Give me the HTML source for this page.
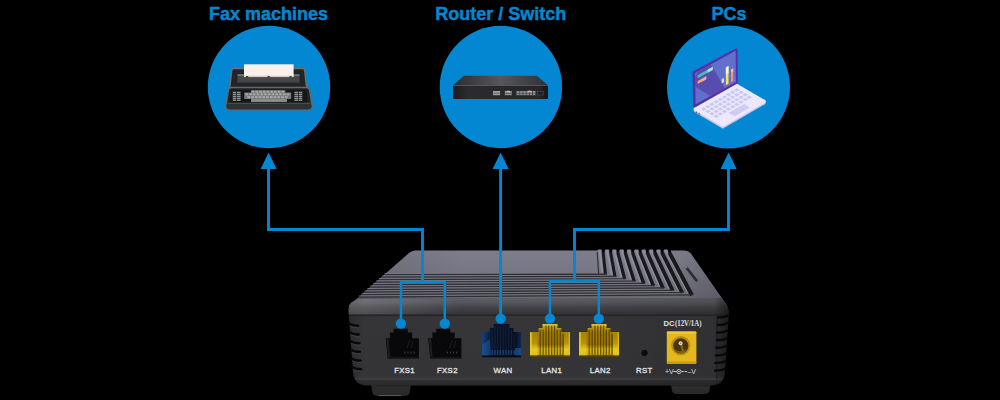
<!DOCTYPE html>
<html><head><meta charset="utf-8"><title>Gateway connection diagram</title>
<style>
html,body{margin:0;padding:0;background:#000;}
body{width:1000px;height:400px;overflow:hidden;font-family:"Liberation Sans",sans-serif;}
svg{display:block}
</style></head>
<body>
<svg width="1000" height="400" viewBox="0 0 1000 400">
<rect width="1000" height="400" fill="#000"/>
<defs>
<linearGradient id="gTop" x1="0" y1="0" x2="0" y2="1">
  <stop offset="0" stop-color="#7e7d8c"/><stop offset="0.42" stop-color="#777684"/><stop offset="0.85" stop-color="#696875"/><stop offset="1" stop-color="#5e5d67"/>
</linearGradient>
<linearGradient id="gTopL" x1="0" y1="0" x2="1" y2="0">
  <stop offset="0" stop-color="#000" stop-opacity="0.12"/><stop offset="0.3" stop-color="#000" stop-opacity="0"/>
  <stop offset="0.85" stop-color="#000" stop-opacity="0"/><stop offset="1" stop-color="#000" stop-opacity="0.15"/>
</linearGradient>
<linearGradient id="gFront" x1="0" y1="0" x2="0" y2="1">
  <stop offset="0" stop-color="#5e5e66"/><stop offset="0.05" stop-color="#56565d"/><stop offset="0.11" stop-color="#424247"/><stop offset="0.185" stop-color="#343438"/><stop offset="0.2" stop-color="#303033"/><stop offset="0.215" stop-color="#363639"/>
  <stop offset="0.88" stop-color="#353538"/><stop offset="0.92" stop-color="#39393c"/><stop offset="0.935" stop-color="#303033"/><stop offset="1" stop-color="#2a2a2c"/>
</linearGradient>
<linearGradient id="gFrontX" x1="0" y1="0" x2="1" y2="0">
  <stop offset="0" stop-color="#000" stop-opacity="0.18"/><stop offset="0.04" stop-color="#000" stop-opacity="0.02"/>
  <stop offset="0.5" stop-color="#000" stop-opacity="0"/><stop offset="0.96" stop-color="#000" stop-opacity="0.1"/><stop offset="1" stop-color="#000" stop-opacity="0.5"/>
</linearGradient>
<linearGradient id="gLan" x1="0" y1="0" x2="0" y2="1">
  <stop offset="0" stop-color="#d2ae22"/><stop offset="0.1" stop-color="#c09a14"/><stop offset="0.26" stop-color="#a07c08"/><stop offset="0.62" stop-color="#9c7806"/><stop offset="0.76" stop-color="#d6b612"/><stop offset="0.93" stop-color="#ccac0e"/><stop offset="0.95" stop-color="#5e4804"/><stop offset="1" stop-color="#4a3804"/>
</linearGradient>
<linearGradient id="gLanSide" x1="0" y1="0" x2="0" y2="1">
  <stop offset="0" stop-color="#a88408" stop-opacity="0.9"/><stop offset="0.45" stop-color="#b8940c" stop-opacity="0.9"/><stop offset="0.75" stop-color="#e6ca1c"/><stop offset="1" stop-color="#e0c018"/>
</linearGradient>
<linearGradient id="gWan" x1="0" y1="0" x2="1" y2="0">
  <stop offset="0" stop-color="#15427e"/><stop offset="0.14" stop-color="#0e284e"/><stop offset="0.24" stop-color="#0a1428"/><stop offset="0.86" stop-color="#090f1e"/><stop offset="1" stop-color="#0e2a58"/>
</linearGradient>
<linearGradient id="gFoot" x1="0" y1="0" x2="0" y2="1">
  <stop offset="0" stop-color="#1c1c1e"/><stop offset="0.3" stop-color="#2c2c2f"/><stop offset="1" stop-color="#29292b"/>
</linearGradient>
</defs>
<path d="M371 384 L411 384 L409.5 393 Q408.5 396 404 396 L378 396 Q373.5 396 372.5 393 Z" fill="url(#gFoot)"/>
<rect x="379" y="395.2" width="22" height="0.9" fill="#8a8a8a" opacity="0.6"/>
<path d="M671 384 L710.5 384 L709.5 391 Q708.5 394 704 394 L677 394 Q673 394 672 391 Z" fill="url(#gFoot)"/>
<path d="M415 250.5 L684.5 250.5 Q688.5 250.5 690.6 253.2 L727.4 306 L348.6 306 L409 253 Q412 250.5 415 250.5 Z" fill="url(#gTop)"/>
<path d="M415 250.5 L684.5 250.5 Q688.5 250.5 690.6 253.2 L727.4 306 L348.6 306 L409 253 Q412 250.5 415 250.5 Z" fill="url(#gTopL)"/>
<path d="M599.8 251.0 L602.2 273.0" fill="none" stroke="#9492a2" stroke-width="2.0" stroke-opacity="0.8"/>
<path d="M603.5 273.1 L384.6 273.5" fill="none" stroke="#7a7987" stroke-width="1.0" stroke-opacity="0.9"/>
<path d="M603.2 252.6 L605.5 274.6" fill="none" stroke="#19191c" stroke-width="2.90" stroke-linecap="butt"/>
<path d="M606.7 274.2 L384.6 274.6" fill="none" stroke="#2e2e33" stroke-width="1.35"/>
<path d="M607.2 251.0 L611.8 275.3" fill="none" stroke="#9492a2" stroke-width="2.0" stroke-opacity="0.8"/>
<path d="M613.1 275.4 L381.8 276.0" fill="none" stroke="#7a7987" stroke-width="1.0" stroke-opacity="0.9"/>
<path d="M610.6 252.6 L615.1 276.9" fill="none" stroke="#19191c" stroke-width="3.02" stroke-linecap="butt"/>
<path d="M616.3 276.5 L381.8 277.1" fill="none" stroke="#2e2e33" stroke-width="1.35"/>
<path d="M614.5 251.0 L621.4 277.6" fill="none" stroke="#9492a2" stroke-width="2.0" stroke-opacity="0.8"/>
<path d="M622.7 277.7 L378.9 278.5" fill="none" stroke="#7a7987" stroke-width="1.0" stroke-opacity="0.9"/>
<path d="M617.9 252.6 L624.7 279.2" fill="none" stroke="#19191c" stroke-width="3.14" stroke-linecap="butt"/>
<path d="M625.9 278.8 L378.9 279.6" fill="none" stroke="#2e2e33" stroke-width="1.35"/>
<path d="M621.9 251.0 L631.0 279.9" fill="none" stroke="#9492a2" stroke-width="2.0" stroke-opacity="0.8"/>
<path d="M632.3 279.9 L376.0 281.0" fill="none" stroke="#7a7987" stroke-width="1.0" stroke-opacity="0.9"/>
<path d="M625.2 252.6 L634.3 281.5" fill="none" stroke="#19191c" stroke-width="3.26" stroke-linecap="butt"/>
<path d="M635.5 281.1 L376.0 282.1" fill="none" stroke="#2e2e33" stroke-width="1.35"/>
<path d="M629.2 251.0 L640.6 282.2" fill="none" stroke="#9492a2" stroke-width="2.0" stroke-opacity="0.8"/>
<path d="M641.9 282.2 L373.2 283.5" fill="none" stroke="#7a7987" stroke-width="1.0" stroke-opacity="0.9"/>
<path d="M632.6 252.6 L643.9 283.8" fill="none" stroke="#19191c" stroke-width="3.38" stroke-linecap="butt"/>
<path d="M645.1 283.4 L373.2 284.6" fill="none" stroke="#2e2e33" stroke-width="1.35"/>
<path d="M636.6 251.0 L650.2 284.5" fill="none" stroke="#9492a2" stroke-width="2.0" stroke-opacity="0.8"/>
<path d="M651.5 284.6 L370.3 286.0" fill="none" stroke="#7a7987" stroke-width="1.0" stroke-opacity="0.9"/>
<path d="M640.0 252.6 L653.5 286.1" fill="none" stroke="#19191c" stroke-width="3.50" stroke-linecap="butt"/>
<path d="M654.7 285.7 L370.3 287.1" fill="none" stroke="#2e2e33" stroke-width="1.35"/>
<path d="M643.9 251.0 L659.8 286.8" fill="none" stroke="#9492a2" stroke-width="2.0" stroke-opacity="0.8"/>
<path d="M661.1 286.9 L367.4 288.5" fill="none" stroke="#7a7987" stroke-width="1.0" stroke-opacity="0.9"/>
<path d="M647.3 252.6 L663.1 288.4" fill="none" stroke="#19191c" stroke-width="3.62" stroke-linecap="butt"/>
<path d="M664.3 288.0 L367.4 289.6" fill="none" stroke="#2e2e33" stroke-width="1.35"/>
<path d="M651.3 251.0 L669.4 289.1" fill="none" stroke="#9492a2" stroke-width="2.0" stroke-opacity="0.8"/>
<path d="M670.7 289.2 L364.6 291.0" fill="none" stroke="#7a7987" stroke-width="1.0" stroke-opacity="0.9"/>
<path d="M654.7 252.6 L672.7 290.7" fill="none" stroke="#19191c" stroke-width="3.74" stroke-linecap="butt"/>
<path d="M673.9 290.3 L364.6 292.1" fill="none" stroke="#2e2e33" stroke-width="1.35"/>
<path d="M658.6 251.0 L679.0 291.4" fill="none" stroke="#9492a2" stroke-width="2.0" stroke-opacity="0.8"/>
<path d="M680.3 291.4 L361.7 293.5" fill="none" stroke="#7a7987" stroke-width="1.0" stroke-opacity="0.9"/>
<path d="M662.0 252.6 L682.3 293.0" fill="none" stroke="#19191c" stroke-width="3.86" stroke-linecap="butt"/>
<path d="M683.5 292.6 L361.7 294.6" fill="none" stroke="#2e2e33" stroke-width="1.35"/>
<path d="M666.0 251.0 L688.6 293.7" fill="none" stroke="#9492a2" stroke-width="2.0" stroke-opacity="0.8"/>
<path d="M689.9 293.8 L358.8 296.0" fill="none" stroke="#7a7987" stroke-width="1.0" stroke-opacity="0.9"/>
<path d="M669.4 252.6 L691.9 295.3" fill="none" stroke="#19191c" stroke-width="3.98" stroke-linecap="butt"/>
<path d="M693.1 294.9 L358.8 297.1" fill="none" stroke="#2e2e33" stroke-width="1.35"/>
<rect x="601.8" y="248.5" width="2.9" height="4.2" fill="#000"/>
<rect x="597.6" y="249.4" width="4.2" height="2.2" rx="1" fill="#8c8a9a"/>
<rect x="609.2" y="248.5" width="2.9" height="4.2" fill="#000"/>
<rect x="605.0" y="249.4" width="4.2" height="2.2" rx="1" fill="#8c8a9a"/>
<rect x="616.5" y="248.5" width="2.9" height="4.2" fill="#000"/>
<rect x="612.3" y="249.4" width="4.2" height="2.2" rx="1" fill="#8c8a9a"/>
<rect x="623.9" y="248.5" width="2.9" height="4.2" fill="#000"/>
<rect x="619.6" y="249.4" width="4.2" height="2.2" rx="1" fill="#8c8a9a"/>
<rect x="631.2" y="248.5" width="2.9" height="4.2" fill="#000"/>
<rect x="627.0" y="249.4" width="4.2" height="2.2" rx="1" fill="#8c8a9a"/>
<rect x="638.6" y="248.5" width="2.9" height="4.2" fill="#000"/>
<rect x="634.4" y="249.4" width="4.2" height="2.2" rx="1" fill="#8c8a9a"/>
<rect x="645.9" y="248.5" width="2.9" height="4.2" fill="#000"/>
<rect x="641.7" y="249.4" width="4.2" height="2.2" rx="1" fill="#8c8a9a"/>
<rect x="653.3" y="248.5" width="2.9" height="4.2" fill="#000"/>
<rect x="649.1" y="249.4" width="4.2" height="2.2" rx="1" fill="#8c8a9a"/>
<rect x="660.6" y="248.5" width="2.9" height="4.2" fill="#000"/>
<rect x="656.4" y="249.4" width="4.2" height="2.2" rx="1" fill="#8c8a9a"/>
<rect x="668.0" y="248.5" width="2.9" height="4.2" fill="#000"/>
<rect x="663.8" y="249.4" width="4.2" height="2.2" rx="1" fill="#8c8a9a"/>
<path d="M597.2 252 L598.6 273.6" stroke="#33333a" stroke-width="1.2"/>
<path d="M685.5 266.4 L696.4 280.4" stroke="#2e2e33" stroke-width="2.6" stroke-linecap="round"/>
<path d="M684.4 264.8 L686.2 267.2" stroke="#787880" stroke-width="2.4" stroke-linecap="round"/>
<path d="M359 298 L721.6 298 L726.4 304.8 Q728.7 307.6 728.7 313 L725 371 Q724.5 385 712 385.4 L366 385.4 Q353.5 385 353 371 L348.5 311 Q348.5 304.6 351.4 302.6 Z" fill="url(#gFront)"/>
<path d="M359 298 L721.6 298 L726.4 304.8 Q728.7 307.6 728.7 313 L725 371 Q724.5 385 712 385.4 L366 385.4 Q353.5 385 353 371 L348.5 311 Q348.5 304.6 351.4 302.6 Z" fill="url(#gFrontX)"/>
<linearGradient id="gBevH" x1="0" y1="0" x2="1" y2="0"><stop offset="0" stop-color="#fff" stop-opacity="0.16"/><stop offset="0.12" stop-color="#fff" stop-opacity="0.10"/><stop offset="0.3" stop-color="#fff" stop-opacity="0"/><stop offset="1" stop-color="#fff" stop-opacity="0"/></linearGradient>
<path d="M351.4 302.6 L358 299 L720 299 L720 314.6 L349 314.6 L348.5 311 Q348.5 304.6 351.4 302.6 Z" fill="url(#gBevH)"/>
<rect x="349.5" y="314.6" width="379" height="1" fill="#1f1f22" opacity="0.85"/>
<rect x="356" y="378.6" width="366" height="1" fill="#4c4c50" opacity="0.7"/>
<path d="M717.2 315.5 L716.6 379" stroke="#1a1a1c" stroke-width="1" opacity="0.8"/>
<path d="M349.2 323.6 q3 2 9 2.2" stroke="#09090a" stroke-width="2.4" fill="none" stroke-linecap="round"/>
<path d="M350.2 326.2 q3 1.6 8 1.8" stroke="#4a4a4e" stroke-width="0.8" fill="none" stroke-linecap="round" opacity="0.7"/>
<path d="M349.8 332.3 q3 2 9 2.2" stroke="#09090a" stroke-width="2.4" fill="none" stroke-linecap="round"/>
<path d="M350.8 334.9 q3 1.6 8 1.8" stroke="#4a4a4e" stroke-width="0.8" fill="none" stroke-linecap="round" opacity="0.7"/>
<path d="M350.4 341.0 q3 2 9 2.2" stroke="#09090a" stroke-width="2.4" fill="none" stroke-linecap="round"/>
<path d="M351.4 343.6 q3 1.6 8 1.8" stroke="#4a4a4e" stroke-width="0.8" fill="none" stroke-linecap="round" opacity="0.7"/>
<path d="M351.0 349.7 q3 2 9 2.2" stroke="#09090a" stroke-width="2.4" fill="none" stroke-linecap="round"/>
<path d="M352.0 352.3 q3 1.6 8 1.8" stroke="#4a4a4e" stroke-width="0.8" fill="none" stroke-linecap="round" opacity="0.7"/>
<path d="M351.6 358.4 q3 2 9 2.2" stroke="#09090a" stroke-width="2.4" fill="none" stroke-linecap="round"/>
<path d="M352.6 361.0 q3 1.6 8 1.8" stroke="#4a4a4e" stroke-width="0.8" fill="none" stroke-linecap="round" opacity="0.7"/>
<path d="M352.2 367.1 q3 2 9 2.2" stroke="#09090a" stroke-width="2.4" fill="none" stroke-linecap="round"/>
<path d="M353.2 369.7 q3 1.6 8 1.8" stroke="#4a4a4e" stroke-width="0.8" fill="none" stroke-linecap="round" opacity="0.7"/>
<path d="M728.6 315.2 q-3 2 -10.5 2.2" stroke="#09090a" stroke-width="2.3" fill="none" stroke-linecap="round"/>
<path d="M728.1 322.8 q-3 2 -10.5 2.2" stroke="#09090a" stroke-width="2.3" fill="none" stroke-linecap="round"/>
<path d="M727.7 330.4 q-3 2 -10.5 2.2" stroke="#09090a" stroke-width="2.3" fill="none" stroke-linecap="round"/>
<path d="M727.2 338.0 q-3 2 -10.5 2.2" stroke="#09090a" stroke-width="2.3" fill="none" stroke-linecap="round"/>
<path d="M726.8 345.6 q-3 2 -10.5 2.2" stroke="#09090a" stroke-width="2.3" fill="none" stroke-linecap="round"/>
<path d="M726.4 353.2 q-3 2 -10.5 2.2" stroke="#09090a" stroke-width="2.3" fill="none" stroke-linecap="round"/>
<path d="M725.9 360.8 q-3 2 -10.5 2.2" stroke="#09090a" stroke-width="2.3" fill="none" stroke-linecap="round"/>
<path d="M725.5 368.4 q-3 2 -10.5 2.2" stroke="#09090a" stroke-width="2.3" fill="none" stroke-linecap="round"/>
<path d="M385.7 338.3 L389.9 338.3 L389.9 332.5 L393.7 332.5 L393.7 328.8 L407.7 328.8 L407.7 332.5 L412.09999999999997 332.5 L412.09999999999997 338.3 L418.9 338.3 L418.9 358.4 L387.7 358.4 Z" fill="#08080a"/>
<path d="M386.3 339 L388.7 339 L390.09999999999997 357.6 L388.09999999999997 357.6 Z" fill="#1d1d20"/>
<rect x="387.7" y="357" width="31.2" height="1.4" fill="#151517"/>
<rect x="404.3" y="351.6" width="1.1" height="1.8" fill="#5a4a36" opacity="0.8"/>
<rect x="407.4" y="351.6" width="1.1" height="1.8" fill="#5a4a36" opacity="0.8"/>
<rect x="410.5" y="351.6" width="1.1" height="1.8" fill="#5a4a36" opacity="0.8"/>
<rect x="413.6" y="351.6" width="1.1" height="1.8" fill="#5a4a36" opacity="0.8"/>
<path d="M409.7 340 L407.2 348 M413.2 341 L411.2 348" stroke="#1e1e22" stroke-width="0.9"/>
<path d="M428.2 338.3 L432.4 338.3 L432.4 332.5 L436.2 332.5 L436.2 328.8 L450.2 328.8 L450.2 332.5 L454.59999999999997 332.5 L454.59999999999997 338.3 L461.4 338.3 L461.4 358.4 L430.2 358.4 Z" fill="#08080a"/>
<path d="M428.8 339 L431.2 339 L432.59999999999997 357.6 L430.59999999999997 357.6 Z" fill="#1d1d20"/>
<rect x="430.2" y="357" width="31.2" height="1.4" fill="#151517"/>
<rect x="446.8" y="351.6" width="1.1" height="1.8" fill="#5a4a36" opacity="0.8"/>
<rect x="449.9" y="351.6" width="1.1" height="1.8" fill="#5a4a36" opacity="0.8"/>
<rect x="453.0" y="351.6" width="1.1" height="1.8" fill="#5a4a36" opacity="0.8"/>
<rect x="456.1" y="351.6" width="1.1" height="1.8" fill="#5a4a36" opacity="0.8"/>
<path d="M452.2 340 L449.7 348 M455.7 341 L453.7 348" stroke="#1e1e22" stroke-width="0.9"/>
<path d="M482 332 L489.6 332 L489.6 328 L493.6 328 L493.6 324 L509.4 324 L509.4 328 L513.4 328 L513.4 332 L521 332 L521 357.2 L482 357.2 Z" fill="url(#gWan)" />
<path d="M482 345 L490 339 L491 355.5 L482 355.5 Z" fill="#2068b8" opacity="0.4"/>
<rect x="491.6" y="329.5" width="1.2" height="20.0" fill="#1a2c54" opacity="0.5"/>
<rect x="494.4" y="325.5" width="1.2" height="24.0" fill="#1a2c54" opacity="0.5"/>
<rect x="497.1" y="325.5" width="1.2" height="24.0" fill="#1a2c54" opacity="0.5"/>
<rect x="499.9" y="325.5" width="1.2" height="24.0" fill="#1a2c54" opacity="0.5"/>
<rect x="502.6" y="325.5" width="1.2" height="24.0" fill="#1a2c54" opacity="0.5"/>
<rect x="505.4" y="325.5" width="1.2" height="24.0" fill="#1a2c54" opacity="0.5"/>
<rect x="508.1" y="325.5" width="1.2" height="24.0" fill="#1a2c54" opacity="0.5"/>
<rect x="510.9" y="329.5" width="1.2" height="20.0" fill="#1a2c54" opacity="0.5"/>
<rect x="513.6" y="333.8" width="1.2" height="15.7" fill="#1a2c54" opacity="0.5"/>
<rect x="491.4" y="350" width="1.5" height="5" fill="#205ca4" opacity="0.6"/>
<rect x="494.1" y="350" width="1.5" height="5" fill="#205ca4" opacity="0.6"/>
<rect x="496.9" y="350" width="1.5" height="5" fill="#205ca4" opacity="0.6"/>
<rect x="499.6" y="350" width="1.5" height="5" fill="#205ca4" opacity="0.6"/>
<rect x="502.4" y="350" width="1.5" height="5" fill="#205ca4" opacity="0.6"/>
<rect x="505.1" y="350" width="1.5" height="5" fill="#205ca4" opacity="0.6"/>
<rect x="507.9" y="350" width="1.5" height="5" fill="#205ca4" opacity="0.6"/>
<rect x="510.6" y="350" width="1.5" height="5" fill="#205ca4" opacity="0.6"/>
<rect x="513.4" y="350" width="1.5" height="5" fill="#205ca4" opacity="0.6"/>
<rect x="515" y="348" width="6" height="7.6" fill="#1d5eb0" opacity="0.6"/>
<rect x="482" y="355.6" width="39" height="1.6" fill="#060a14"/>
<path d="M530 332 L538.6 332 L538.6 328 L542.6 328 L542.6 324 L557.4 324 L557.4 328 L561.4 328 L561.4 332 L570 332 L570 357.2 L530 357.2 Z" fill="url(#gLan)" />
<rect x="542.6" y="324" width="14.8" height="2" fill="#dcbc34" opacity="0.9"/>
<rect x="539.6" y="329.6" width="1.3" height="18.8" fill="#3e2a00" opacity="0.66"/>
<rect x="539.6" y="348.4" width="1.3" height="7" fill="#5a3e00" opacity="0.8"/>
<rect x="542.5" y="329.6" width="1.3" height="18.8" fill="#3e2a00" opacity="0.66"/>
<rect x="542.5" y="348.4" width="1.3" height="7" fill="#5a3e00" opacity="0.8"/>
<rect x="545.3" y="325.6" width="1.3" height="22.8" fill="#3e2a00" opacity="0.66"/>
<rect x="545.3" y="348.4" width="1.3" height="7" fill="#5a3e00" opacity="0.8"/>
<rect x="548.1" y="325.6" width="1.3" height="22.8" fill="#3e2a00" opacity="0.66"/>
<rect x="548.1" y="348.4" width="1.3" height="7" fill="#5a3e00" opacity="0.8"/>
<rect x="551.0" y="325.6" width="1.3" height="22.8" fill="#3e2a00" opacity="0.66"/>
<rect x="551.0" y="348.4" width="1.3" height="7" fill="#5a3e00" opacity="0.8"/>
<rect x="553.9" y="325.6" width="1.3" height="22.8" fill="#3e2a00" opacity="0.66"/>
<rect x="553.9" y="348.4" width="1.3" height="7" fill="#5a3e00" opacity="0.8"/>
<rect x="556.7" y="329.6" width="1.3" height="18.8" fill="#3e2a00" opacity="0.66"/>
<rect x="556.7" y="348.4" width="1.3" height="7" fill="#5a3e00" opacity="0.8"/>
<rect x="559.6" y="329.6" width="1.3" height="18.8" fill="#3e2a00" opacity="0.66"/>
<rect x="559.6" y="348.4" width="1.3" height="7" fill="#5a3e00" opacity="0.8"/>
<rect x="562.4" y="333.90000000000003" width="1.3" height="14.5" fill="#3e2a00" opacity="0.66"/>
<rect x="562.4" y="348.4" width="1.3" height="7" fill="#5a3e00" opacity="0.8"/>
<rect x="530" y="332.3" width="7.4" height="23" fill="url(#gLanSide)"/>
<rect x="564" y="332.3" width="6" height="23" fill="url(#gLanSide)"/>
<rect x="530" y="332.3" width="1.8" height="22" fill="#e8cc2c" opacity="0.85"/>
<rect x="568.6" y="332.3" width="1.4" height="22" fill="#e2c424" opacity="0.7"/>
<path d="M579 332 L587.6 332 L587.6 328 L591.6 328 L591.6 324 L606.4 324 L606.4 328 L610.4 328 L610.4 332 L619 332 L619 357.2 L579 357.2 Z" fill="url(#gLan)" />
<rect x="591.6" y="324" width="14.8" height="2" fill="#dcbc34" opacity="0.9"/>
<rect x="588.6" y="329.6" width="1.3" height="18.8" fill="#3e2a00" opacity="0.66"/>
<rect x="588.6" y="348.4" width="1.3" height="7" fill="#5a3e00" opacity="0.8"/>
<rect x="591.5" y="329.6" width="1.3" height="18.8" fill="#3e2a00" opacity="0.66"/>
<rect x="591.5" y="348.4" width="1.3" height="7" fill="#5a3e00" opacity="0.8"/>
<rect x="594.3" y="325.6" width="1.3" height="22.8" fill="#3e2a00" opacity="0.66"/>
<rect x="594.3" y="348.4" width="1.3" height="7" fill="#5a3e00" opacity="0.8"/>
<rect x="597.1" y="325.6" width="1.3" height="22.8" fill="#3e2a00" opacity="0.66"/>
<rect x="597.1" y="348.4" width="1.3" height="7" fill="#5a3e00" opacity="0.8"/>
<rect x="600.0" y="325.6" width="1.3" height="22.8" fill="#3e2a00" opacity="0.66"/>
<rect x="600.0" y="348.4" width="1.3" height="7" fill="#5a3e00" opacity="0.8"/>
<rect x="602.9" y="325.6" width="1.3" height="22.8" fill="#3e2a00" opacity="0.66"/>
<rect x="602.9" y="348.4" width="1.3" height="7" fill="#5a3e00" opacity="0.8"/>
<rect x="605.7" y="329.6" width="1.3" height="18.8" fill="#3e2a00" opacity="0.66"/>
<rect x="605.7" y="348.4" width="1.3" height="7" fill="#5a3e00" opacity="0.8"/>
<rect x="608.6" y="329.6" width="1.3" height="18.8" fill="#3e2a00" opacity="0.66"/>
<rect x="608.6" y="348.4" width="1.3" height="7" fill="#5a3e00" opacity="0.8"/>
<rect x="611.4" y="333.90000000000003" width="1.3" height="14.5" fill="#3e2a00" opacity="0.66"/>
<rect x="611.4" y="348.4" width="1.3" height="7" fill="#5a3e00" opacity="0.8"/>
<rect x="579" y="332.3" width="7.4" height="23" fill="url(#gLanSide)"/>
<rect x="613" y="332.3" width="6" height="23" fill="url(#gLanSide)"/>
<rect x="579" y="332.3" width="1.8" height="22" fill="#e8cc2c" opacity="0.85"/>
<rect x="617.6" y="332.3" width="1.4" height="22" fill="#e2c424" opacity="0.7"/>
<circle cx="644.5" cy="353" r="3.4" fill="#0c0c0d"/>
<circle cx="644.5" cy="353" r="3.9" fill="none" stroke="#3a3a3d" stroke-width="0.8"/>
<rect x="666.8" y="331.4" width="29.6" height="32.6" rx="1.2" fill="#e6b61e"/>
<rect x="666.8" y="331.4" width="29.6" height="2.4" rx="1.2" fill="#f0c93a"/>
<rect x="666.8" y="361.6" width="29.6" height="2.4" rx="1.2" fill="#c89a14"/>
<circle cx="680.8" cy="345.6" r="9.7" fill="#b8920f"/>
<circle cx="680.8" cy="345.8" r="7.6" fill="#473508"/>
<path d="M674.4 349.5 A7.6 7.6 0 0 0 687.2 349.5 Q681 353 674.4 349.5 Z" fill="#8a6c14" opacity="0.8"/>
<path d="M680.8 343.6 L683.4 352.4" stroke="#7c6220" stroke-width="2.2" stroke-linecap="round"/>
<circle cx="680.6" cy="343.3" r="2" fill="#e4dccb"/>
<circle cx="680.8" cy="343.4" r="0.8" fill="#8c8678"/>
<text x="404.6" y="373" font-family="Liberation Sans" font-size="7.8" font-weight="normal" text-anchor="middle" fill="#e4e4e4" stroke="#e4e4e4" stroke-width="0.3" letter-spacing="0.35" >FXS1</text>
<text x="447.4" y="373" font-family="Liberation Sans" font-size="7.8" font-weight="normal" text-anchor="middle" fill="#e4e4e4" stroke="#e4e4e4" stroke-width="0.3" letter-spacing="0.35" >FXS2</text>
<text x="503" y="373.2" font-family="Liberation Sans" font-size="7.8" font-weight="normal" text-anchor="middle" fill="#e4e4e4" stroke="#e4e4e4" stroke-width="0.3" letter-spacing="0.35" >WAN</text>
<text x="551.8" y="373.2" font-family="Liberation Sans" font-size="7.8" font-weight="normal" text-anchor="middle" fill="#e4e4e4" stroke="#e4e4e4" stroke-width="0.3" letter-spacing="0.35" >LAN1</text>
<text x="600.3" y="373.2" font-family="Liberation Sans" font-size="7.8" font-weight="normal" text-anchor="middle" fill="#e4e4e4" stroke="#e4e4e4" stroke-width="0.3" letter-spacing="0.35" >LAN2</text>
<text x="644.3" y="373.2" font-family="Liberation Sans" font-size="7.8" font-weight="normal" text-anchor="middle" fill="#e4e4e4" stroke="#e4e4e4" stroke-width="0.3" letter-spacing="0.35" >RST</text>
<text x="663.6" y="325.5" fill="#e2e2e2" font-family="Liberation Sans" font-weight="bold" font-size="7.6">DC</text>
<text x="675.0" y="325.5" fill="#e2e2e2" font-family="Liberation Serif" font-weight="bold" font-size="7.7" textLength="26.4" lengthAdjust="spacingAndGlyphs">(12V/1A)</text>
<text x="665" y="374" font-family="Liberation Sans" font-size="7" fill="#dcdcdc">+V</text>
<text x="687.4" y="374" font-family="Liberation Sans" font-size="7" fill="#dcdcdc">–V</text>
<path d="M673.4 371.5 h3.4 M681.6 371.5 h2.2 M684.6 371.5 h2.2" stroke="#dcdcdc" stroke-width="0.9"/>
<circle cx="679" cy="371.5" r="2.1" fill="none" stroke="#dcdcdc" stroke-width="0.8"/><circle cx="679" cy="371.5" r="0.8" fill="#dcdcdc"/>
<path d="M268.5 168 L268.5 229.5 L422.5 229.5 L422.5 282" fill="none" stroke="#0387d2" stroke-width="2.9" stroke-linejoin="miter"/>
<path d="M401 323 L401 282 L444.8 282 L444.8 323" fill="none" stroke="#0387d2" stroke-width="2.5" stroke-linejoin="miter"/>
<path d="M500.6 168 L500.6 318" fill="none" stroke="#0387d2" stroke-width="2.9" stroke-linejoin="miter"/>
<path d="M728.5 168 L728.5 229.5 L574.5 229.5 L574.5 281.2" fill="none" stroke="#0387d2" stroke-width="2.9" stroke-linejoin="miter"/>
<path d="M550 318 L550 281.2 L598.8 281.2 L598.8 318" fill="none" stroke="#0387d2" stroke-width="2.5" stroke-linejoin="miter"/>
<circle cx="400.9" cy="323.6" r="5.2" fill="#0387d2"/>
<circle cx="444.8" cy="323.6" r="5.2" fill="#0387d2"/>
<circle cx="500.7" cy="318.6" r="5.2" fill="#0387d2"/>
<circle cx="550" cy="318.6" r="5.2" fill="#0387d2"/>
<circle cx="598.8" cy="318.6" r="5.2" fill="#0387d2"/>
<path d="M268.6 152.6 L276.6 168.9 L260.6 168.9 Z" fill="#0387d2"/>
<path d="M500.6 152.6 L508.6 168.9 L492.6 168.9 Z" fill="#0387d2"/>
<path d="M728.6 152.6 L736.6 168.9 L720.6 168.9 Z" fill="#0387d2"/>
<circle cx="269.0" cy="87.0" r="61.2" fill="#0387d2"/>
<circle cx="500.9" cy="87.0" r="61.2" fill="#0387d2"/>
<circle cx="728.5" cy="87.0" r="61.5" fill="#0387d2"/>
<text x="268.6" y="19.8" font-family="Liberation Sans" font-size="18" font-weight="bold" text-anchor="middle" fill="#0387d2" stroke="#0387d2" stroke-width="0.45" stroke-linejoin="round">Fax machines</text>
<text x="500.7" y="19.8" font-family="Liberation Sans" font-size="18" font-weight="bold" text-anchor="middle" fill="#0387d2" stroke="#0387d2" stroke-width="0.45" stroke-linejoin="round">Router / Switch</text>
<text x="729" y="19.8" font-family="Liberation Sans" font-size="18" font-weight="bold" text-anchor="middle" fill="#0387d2" stroke="#0387d2" stroke-width="0.45" stroke-linejoin="round">PCs</text>
<g id="fax">
<path d="M233.5 68.6 L302.8 68.6 Q304.2 68.6 304.6 70 L306.6 87.6 L229.8 87.6 L231.8 70 Q232.2 68.6 233.5 68.6 Z" fill="#212527" stroke="#707171" stroke-width="1.4"/>
<rect x="237.5" y="74.6" width="62" height="8" fill="#45494a"/>
<rect x="237.5" y="74.3" width="62" height="1.5" fill="#7b7d7d"/>
<rect x="237.5" y="81.4" width="62" height="1.4" fill="#3a3d3e"/>
<rect x="244" y="64.3" width="49.6" height="12.6" fill="#fdf0e9"/>
<rect x="244" y="75.6" width="49.6" height="1.5" fill="#d9cdc6"/>
<rect x="246" y="76" width="2.2" height="1.6" fill="#3b3d3e"/><rect x="267.6" y="76" width="2.2" height="1.6" fill="#3b3d3e"/><rect x="289.5" y="76" width="2.2" height="1.6" fill="#3b3d3e"/>
<path d="M231.5 87.6 L306.5 87.6 Q309 87.6 309.6 90 L311.9 105 Q312.4 109.8 308 109.8 L230 109.8 Q225.6 109.8 226.1 105 L228.4 90 Q229 87.6 231.5 87.6 Z" fill="#1f2325" stroke="#676868" stroke-width="1.5"/>
<path d="M226.8 103.4 L311.2 103.4 L311.6 105.4 Q312 109.4 308 109.4 L230 109.4 Q226 109.4 226.4 105.4 Z" fill="#2e3233"/>
<rect x="227.4" y="102.8" width="83.2" height="0.9" fill="#58595a"/>
<path d="M231.6 89.9 L306.4 89.9 L307.6 102.2 L230.4 102.2 Z" fill="#141617"/>
<path d="M251 90.3 L285.4 90.3 L285.4 92.6 L291.2 92.6 L291.2 98.9 L287 98.9 L287 102 L251 102 L251 98.9 L244.2 98.9 L244.2 92.6 L251 92.6 Z" fill="#777878"/>
<rect x="251.6" y="90.7" width="2.7" height="1.9" fill="#a9aaaa"/>
<rect x="255.3" y="90.7" width="2.7" height="1.9" fill="#a9aaaa"/>
<rect x="259.1" y="90.7" width="2.7" height="1.9" fill="#a9aaaa"/>
<rect x="262.9" y="90.7" width="2.7" height="1.9" fill="#a9aaaa"/>
<rect x="266.6" y="90.7" width="2.7" height="1.9" fill="#a9aaaa"/>
<rect x="270.4" y="90.7" width="2.7" height="1.9" fill="#a9aaaa"/>
<rect x="274.1" y="90.7" width="2.7" height="1.9" fill="#a9aaaa"/>
<rect x="277.9" y="90.7" width="2.7" height="1.9" fill="#a9aaaa"/>
<rect x="281.6" y="90.7" width="2.7" height="1.9" fill="#a9aaaa"/>
<rect x="245.4" y="93.4" width="2.7" height="1.9" fill="#a9aaaa"/>
<rect x="249.2" y="93.4" width="2.7" height="1.9" fill="#a9aaaa"/>
<rect x="252.9" y="93.4" width="2.7" height="1.9" fill="#a9aaaa"/>
<rect x="256.6" y="93.4" width="2.7" height="1.9" fill="#a9aaaa"/>
<rect x="260.4" y="93.4" width="2.7" height="1.9" fill="#a9aaaa"/>
<rect x="264.1" y="93.4" width="2.7" height="1.9" fill="#a9aaaa"/>
<rect x="267.9" y="93.4" width="2.7" height="1.9" fill="#a9aaaa"/>
<rect x="271.6" y="93.4" width="2.7" height="1.9" fill="#a9aaaa"/>
<rect x="275.4" y="93.4" width="2.7" height="1.9" fill="#a9aaaa"/>
<rect x="279.1" y="93.4" width="2.7" height="1.9" fill="#a9aaaa"/>
<rect x="282.9" y="93.4" width="2.7" height="1.9" fill="#a9aaaa"/>
<rect x="286.6" y="93.4" width="2.7" height="1.9" fill="#a9aaaa"/>
<rect x="247.4" y="96.2" width="2.7" height="1.9" fill="#a9aaaa"/>
<rect x="251.2" y="96.2" width="2.7" height="1.9" fill="#a9aaaa"/>
<rect x="254.9" y="96.2" width="2.7" height="1.9" fill="#a9aaaa"/>
<rect x="258.6" y="96.2" width="2.7" height="1.9" fill="#a9aaaa"/>
<rect x="262.4" y="96.2" width="2.7" height="1.9" fill="#a9aaaa"/>
<rect x="266.1" y="96.2" width="2.7" height="1.9" fill="#a9aaaa"/>
<rect x="269.9" y="96.2" width="2.7" height="1.9" fill="#a9aaaa"/>
<rect x="273.6" y="96.2" width="2.7" height="1.9" fill="#a9aaaa"/>
<rect x="277.4" y="96.2" width="2.7" height="1.9" fill="#a9aaaa"/>
<rect x="281.1" y="96.2" width="2.7" height="1.9" fill="#a9aaaa"/>
<rect x="284.9" y="96.2" width="2.7" height="1.9" fill="#a9aaaa"/>
<rect x="251.6" y="99.3" width="34.8" height="2.3" fill="#8e8f8f"/>
<rect x="232.7" y="91.70" width="3.6" height="1.4" fill="#929393"/>
<rect x="232.7" y="93.65" width="3.6" height="1.4" fill="#929393"/>
<rect x="232.7" y="95.60" width="3.6" height="1.4" fill="#929393"/>
<rect x="232.7" y="97.55" width="3.6" height="1.4" fill="#929393"/>
<rect x="232.7" y="99.50" width="3.6" height="1.4" fill="#929393"/>
<rect x="237.0" y="91.70" width="3.6" height="1.4" fill="#929393"/>
<rect x="237.0" y="93.65" width="3.6" height="1.4" fill="#929393"/>
<rect x="237.0" y="95.60" width="3.6" height="1.4" fill="#929393"/>
<rect x="237.0" y="97.55" width="3.6" height="1.4" fill="#929393"/>
<rect x="237.0" y="99.50" width="3.6" height="1.4" fill="#929393"/>
<rect x="294.4" y="91.70" width="3.6" height="1.4" fill="#929393"/>
<rect x="294.4" y="93.65" width="3.6" height="1.4" fill="#929393"/>
<rect x="294.4" y="95.60" width="3.6" height="1.4" fill="#929393"/>
<rect x="294.4" y="97.55" width="3.6" height="1.4" fill="#929393"/>
<rect x="294.4" y="99.50" width="3.6" height="1.4" fill="#929393"/>
<rect x="298.7" y="91.70" width="3.6" height="1.4" fill="#929393"/>
<rect x="298.7" y="93.65" width="3.6" height="1.4" fill="#929393"/>
<rect x="298.7" y="95.60" width="3.6" height="1.4" fill="#929393"/>
<rect x="298.7" y="97.55" width="3.6" height="1.4" fill="#929393"/>
<rect x="298.7" y="99.50" width="3.6" height="1.4" fill="#929393"/>
</g>
<g id="router">
<linearGradient id="rTop" x1="0" y1="0" x2="1" y2="0"><stop offset="0" stop-color="#2c2c30"/><stop offset="0.5" stop-color="#56565b"/><stop offset="1" stop-color="#303034"/></linearGradient>
<linearGradient id="rFr" x1="0" y1="0" x2="1" y2="0"><stop offset="0" stop-color="#1b1b1e"/><stop offset="0.15" stop-color="#2b2b2f"/><stop offset="0.9" stop-color="#26262a"/><stop offset="1" stop-color="#151517"/></linearGradient>
<path d="M463.8 75.8 L537 75.8 L548 85.4 L453 85.4 Z" fill="url(#rTop)"/>
<path d="M453 85.2 L548 85.2 L548 98 Q548 99 547 99 L454 99 Q453 99 453 98 Z" fill="url(#rFr)"/>
<rect x="453" y="85" width="95" height="0.9" fill="#6a6a6f" opacity="0.7"/>
<rect x="492.9" y="91" width="7.2" height="4.2" fill="#9fa2a6"/><rect x="492.9" y="92.8" width="7.2" height="0.7" fill="#4a4a4e"/>
<rect x="504.8" y="91" width="7" height="4.2" fill="#8d9094"/><rect x="506.6" y="90.8" width="3.4" height="1.2" fill="#e3d51f"/><rect x="504.8" y="93.2" width="7" height="0.6" fill="#4a4a4e"/>
<rect x="516.5" y="91" width="19.4" height="4.2" fill="#8a8d91"/>
<rect x="519.4" y="91" width="0.7" height="4.2" fill="#3a3a3e"/>
<rect x="522.6" y="91" width="0.7" height="4.2" fill="#3a3a3e"/>
<rect x="525.8" y="91" width="0.7" height="4.2" fill="#3a3a3e"/>
<rect x="529.0" y="91" width="0.7" height="4.2" fill="#3a3a3e"/>
<rect x="532.2" y="91" width="0.7" height="4.2" fill="#3a3a3e"/>
<rect x="535.4" y="91" width="0.7" height="4.2" fill="#3a3a3e"/>
<rect x="516.5" y="93" width="19.4" height="0.6" fill="#4a4a4e"/>
<rect x="527.6" y="90.7" width="4" height="1.2" fill="#e3d51f"/>
<rect x="537.2" y="91.4" width="6" height="3.6" fill="#1c1c1f" stroke="#55555a" stroke-width="0.6"/>
</g>
<g id="laptop">
<path d="M695.2 109.0 L722.8 125.2 L764.2 101.4 L764.2 103.0 L722.8 127.0 L695.2 110.6 Z" fill="#cdc2ea" stroke="#cdc2ea" stroke-width="3" stroke-linejoin="round"/>
<path d="M695.2 109.0 L722.8 125.2 L764.2 101.4 L736.6 85.2 Z" fill="#ebe9fb" stroke="#ebe9fb" stroke-width="3" stroke-linejoin="round"/>
<path d="M700.9 109.0 L703.8 110.7 L706.7 109.0 L703.8 107.3 Z" fill="#cbc8f0" />
<path d="M705.0 106.6 L707.9 108.3 L710.8 106.6 L707.9 104.9 Z" fill="#cbc8f0" />
<path d="M709.1 104.2 L712.0 105.9 L714.9 104.2 L712.0 102.5 Z" fill="#cbc8f0" />
<path d="M713.3 101.8 L716.2 103.5 L719.1 101.8 L716.2 100.1 Z" fill="#cbc8f0" />
<path d="M717.4 99.4 L720.3 101.1 L723.2 99.5 L720.3 97.8 Z" fill="#cbc8f0" />
<path d="M721.6 97.1 L724.5 98.8 L727.4 97.1 L724.5 95.4 Z" fill="#cbc8f0" />
<path d="M725.7 94.7 L728.6 96.4 L731.5 94.7 L728.6 93.0 Z" fill="#cbc8f0" />
<path d="M729.8 92.3 L732.7 94.0 L735.6 92.3 L732.7 90.6 Z" fill="#cbc8f0" />
<path d="M734.0 89.9 L736.9 91.6 L739.8 89.9 L736.9 88.2 Z" fill="#cbc8f0" />
<path d="M705.0 111.4 L707.9 113.1 L710.8 111.4 L707.9 109.7 Z" fill="#cbc8f0" />
<path d="M709.1 109.0 L712.0 110.7 L714.9 109.0 L712.0 107.3 Z" fill="#cbc8f0" />
<path d="M713.3 106.6 L716.2 108.3 L719.1 106.7 L716.2 105.0 Z" fill="#cbc8f0" />
<path d="M717.4 104.2 L720.3 105.9 L723.2 104.3 L720.3 102.6 Z" fill="#cbc8f0" />
<path d="M721.6 101.9 L724.5 103.6 L727.4 101.9 L724.5 100.2 Z" fill="#cbc8f0" />
<path d="M725.7 99.5 L728.6 101.2 L731.5 99.5 L728.6 97.8 Z" fill="#cbc8f0" />
<path d="M729.8 97.1 L732.7 98.8 L735.6 97.1 L732.7 95.4 Z" fill="#cbc8f0" />
<path d="M734.0 94.7 L736.9 96.4 L739.8 94.8 L736.9 93.1 Z" fill="#cbc8f0" />
<path d="M738.1 92.3 L741.0 94.0 L743.9 92.4 L741.0 90.7 Z" fill="#cbc8f0" />
<path d="M709.1 113.8 L712.0 115.5 L714.9 113.8 L712.0 112.1 Z" fill="#cbc8f0" />
<path d="M713.3 111.4 L716.2 113.1 L719.1 111.5 L716.2 109.8 Z" fill="#cbc8f0" />
<path d="M717.4 109.1 L720.3 110.8 L723.2 109.1 L720.3 107.4 Z" fill="#cbc8f0" />
<path d="M721.6 106.7 L724.5 108.4 L727.4 106.7 L724.5 105.0 Z" fill="#cbc8f0" />
<path d="M725.7 104.3 L728.6 106.0 L731.5 104.3 L728.6 102.6 Z" fill="#cbc8f0" />
<path d="M729.8 101.9 L732.7 103.6 L735.6 101.9 L732.7 100.2 Z" fill="#cbc8f0" />
<path d="M734.0 99.5 L736.9 101.2 L739.8 99.6 L736.9 97.9 Z" fill="#cbc8f0" />
<path d="M738.1 97.2 L741.0 98.9 L743.9 97.2 L741.0 95.5 Z" fill="#cbc8f0" />
<path d="M742.3 94.8 L745.2 96.5 L748.1 94.8 L745.2 93.1 Z" fill="#cbc8f0" />
<path d="M713.3 116.2 L716.2 117.9 L719.1 116.3 L716.2 114.6 Z" fill="#cbc8f0" />
<path d="M717.4 113.9 L720.3 115.6 L723.2 113.9 L720.3 112.2 Z" fill="#cbc8f0" />
<path d="M721.6 111.5 L724.5 113.2 L727.4 111.5 L724.5 109.8 Z" fill="#cbc8f0" />
<path d="M725.7 109.1 L728.6 110.8 L731.5 109.1 L728.6 107.4 Z" fill="#cbc8f0" />
<path d="M729.8 106.7 L732.7 108.4 L735.6 106.8 L732.7 105.1 Z" fill="#cbc8f0" />
<path d="M734.0 104.3 L736.9 106.0 L739.8 104.4 L736.9 102.7 Z" fill="#cbc8f0" />
<path d="M738.1 102.0 L741.0 103.7 L743.9 102.0 L741.0 100.3 Z" fill="#cbc8f0" />
<path d="M742.3 99.6 L745.2 101.3 L748.1 99.6 L745.2 97.9 Z" fill="#cbc8f0" />
<path d="M746.4 97.2 L749.3 98.9 L752.2 97.2 L749.3 95.5 Z" fill="#cbc8f0" />
<path d="M728.7 112.8 L734.5 116.2 L749.8 107.4 L744.1 104.0 Z" fill="#cfcbf2" />
<circle cx="696.4" cy="112.2" r="0.8" fill="#6a3fb0"/><circle cx="699.2" cy="113.8" r="0.8" fill="#6a3fb0"/>
<path d="M694.4 106.0 L736.6 82.4 L736.2 49.6 L693.8 72.4 Z" fill="#5a2ea6" stroke="#5a2ea6" stroke-width="2.6" stroke-linejoin="round"/>
<path d="M695.6 104.3 L736.0 82.1 L735.6 50.8 L695.1 72.9 Z" fill="#6270cc" />
<path d="M698.1 71.3 L710.8 64.3 L724.8 88.2 L710.4 96.0 L695.3 86.8 L695.2 76.8 Z" fill="#5648ac" opacity="0.9"/>
<path d="M697.7 75.2 L712.8 66.7 L712.8 69.8 L697.7 78.3 Z" fill="#3fc4c0" />
<path d="M707.6 69.7 L712.8 66.8 L712.8 69.9 L707.6 72.8 Z" fill="#a6e4e0" />
<path d="M697.7 81.0 L706.2 76.2 L706.2 79.2 L697.7 84.0 Z" fill="#f7a56c" />
<path d="M702.4 78.4 L706.2 76.3 L706.2 79.3 L702.4 81.4 Z" fill="#f0a3b4" />
<path d="M725.9 67.4 L728.5 65.9 L728.5 83.7 L725.9 85.2 Z" fill="#f8e160" />
<path d="M725.9 67.4 L728.5 65.9 L728.5 72.9 L725.9 74.4 Z" fill="#fdf6d8" />
<path d="M731.0 69.6 L733.2 68.4 L733.2 81.0 L731.0 82.2 Z" fill="#f5917c" />
<path d="M731.0 69.6 L733.2 68.4 L733.2 71.4 L731.0 72.6 Z" fill="#f9c0b4" />
<path d="M721.7 79.3 L724.0 78.0 L724.0 82.1 L721.7 83.4 Z" fill="#e4dcf8" />
</g>
</svg>
</body></html>
